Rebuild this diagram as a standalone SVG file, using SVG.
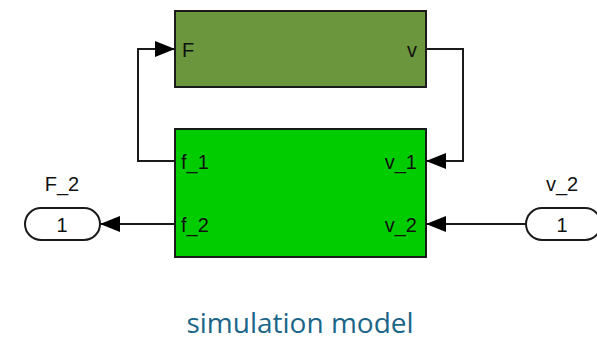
<svg xmlns="http://www.w3.org/2000/svg" width="597" height="341" viewBox="0 0 597 341">
<defs>
<marker id="ah" viewBox="0 0 20 16" refX="20" refY="8" markerWidth="20" markerHeight="16" markerUnits="userSpaceOnUse" orient="auto">
<path d="M0,0 L20,8 L0,16 Z" fill="#000"/>
</marker>
</defs>
<style>
.blk{stroke:#1a1a1a;stroke-width:2}
.port{font-family:"Liberation Sans",Arial,sans-serif;font-size:20px;fill:#111}
.conn{fill:none;stroke:#1a1a1a;stroke-width:2}
.pill{fill:#fff;stroke:#1a1a1a;stroke-width:2}
.cap{font-family:"Open Sans","Noto Sans",sans-serif;font-size:28px;fill:#1b6688}
</style>
<rect width="597" height="341" fill="#fff"/>
<g id="connectors">
<path class="conn" d="M175,161 H138 V49 H155" />
<path class="conn" d="M155,49 H175" marker-end="url(#ah)"/>
<path class="conn" d="M426,49 H463 V161 H446"/>
<path class="conn" d="M446,161 H426" marker-end="url(#ah)"/>
<path class="conn" d="M175,224 H120"/>
<path class="conn" d="M120,224 H100" marker-end="url(#ah)"/>
<path class="conn" d="M526,224 H446"/>
<path class="conn" d="M446,224 H426" marker-end="url(#ah)"/>
</g>
<g id="plant">
<rect class="blk" x="175" y="11" width="251" height="76" fill="#6b963d"/>
<text class="port" x="182" y="57">F</text>
<text class="port" x="417" y="57" text-anchor="end">v</text>
</g>
<g id="model">
<rect class="blk" x="175" y="129" width="251" height="128" fill="#00cc00"/>
<text class="port" x="181" y="169">f_1</text>
<text class="port" x="181" y="232">f_2</text>
<text class="port" x="417" y="169" text-anchor="end">v_1</text>
<text class="port" x="417" y="232" text-anchor="end">v_2</text>
</g>
<g id="F_2">
<rect class="pill" x="25" y="208" width="75" height="32" rx="16"/>
<text class="port" x="62" y="232" text-anchor="middle">1</text>
<text class="port" x="62" y="191" text-anchor="middle">F_2</text>
</g>
<g id="v_2">
<rect class="pill" x="526" y="208" width="75" height="32" rx="16"/>
<text class="port" x="562" y="232" text-anchor="middle">1</text>
<text class="port" x="562" y="191" text-anchor="middle">v_2</text>
</g>
<text class="cap" x="300" y="333" text-anchor="middle">simulation model</text>
</svg>
